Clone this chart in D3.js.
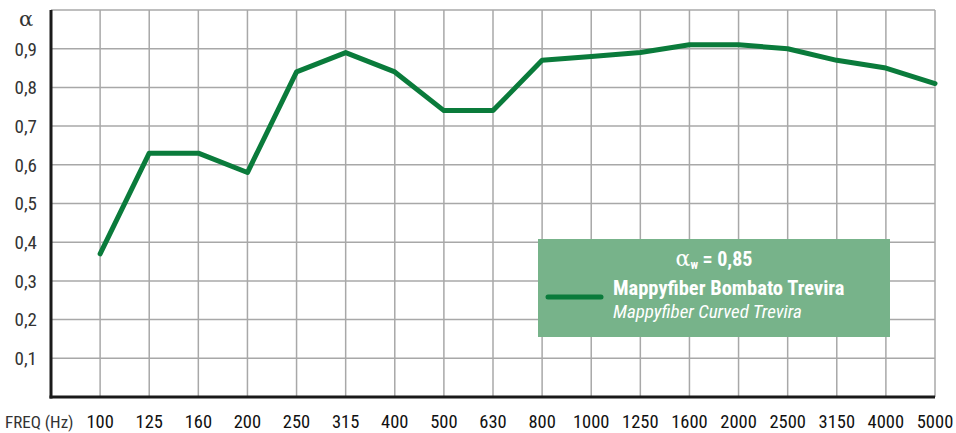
<!DOCTYPE html>
<html>
<head>
<meta charset="utf-8">
<script src="https://cdn.jsdelivr.net/npm/d3@7"></script>
<style>
  body { margin: 0; background: #fff; }
  svg { display: block; font-family: "Liberation Sans Narrow", "Roboto Condensed", "Liberation Sans", sans-serif; }
</style>
</head>
<body>
<div id="vis"></div>
<script>
const FRAME_WIDTH = 956;
const FRAME_HEIGHT = 433;
const MARGINS = {left: 51, right: 21, top: 10, bottom: 36};

// data
const freqs = ["100", "125", "160", "200", "250", "315", "400", "500", "630", "800",
               "1000", "1250", "1600", "2000", "2500", "3150", "4000", "5000"];
const alphaValues = [0.37, 0.63, 0.63, 0.58, 0.84, 0.89, 0.84, 0.74, 0.74, 0.87,
                     0.88, 0.89, 0.91, 0.91, 0.90, 0.87, 0.85, 0.81];
const yTicks = [0.1, 0.2, 0.3, 0.4, 0.5, 0.6, 0.7, 0.8, 0.9];
const alphaW = "0,85";
const seriesName = "Mappyfiber Bombato Trevira";
const seriesNameEn = "Mappyfiber Curved Trevira";

const VIS_WIDTH = FRAME_WIDTH - MARGINS.left - MARGINS.right;
const VIS_HEIGHT = FRAME_HEIGHT - MARGINS.top - MARGINS.bottom;

const svg = d3.select("#vis")
  .append("svg")
    .attr("width", FRAME_WIDTH)
    .attr("height", FRAME_HEIGHT);

const FRAME = svg.append("g")
  .attr("transform", "translate(" + MARGINS.left + "," + MARGINS.top + ")");

// one empty slot left of 100 Hz so the first point sits on a grid line
const X_SCALE = d3.scalePoint()
  .domain([""].concat(freqs))
  .range([0, VIS_WIDTH]);

const Y_SCALE = d3.scaleLinear()
  .domain([0, 1])
  .range([VIS_HEIGHT, 0]);

// horizontal grid
FRAME.append("g")
  .selectAll("line")
  .data(yTicks.concat([1]))
  .enter()
  .append("line")
    .attr("x1", 0)
    .attr("x2", VIS_WIDTH)
    .attr("y1", d => Y_SCALE(d))
    .attr("y2", d => Y_SCALE(d))
    .attr("stroke", "#a8a8a8")
    .attr("stroke-width", 1.5);

// vertical grid
FRAME.append("g")
  .selectAll("line")
  .data(freqs)
  .enter()
  .append("line")
    .attr("x1", d => X_SCALE(d))
    .attr("x2", d => X_SCALE(d))
    .attr("y1", 0)
    .attr("y2", VIS_HEIGHT)
    .attr("stroke", "#a8a8a8")
    .attr("stroke-width", 1.5);

// axes (black L)
FRAME.append("line")
  .attr("x1", 0).attr("x2", 0)
  .attr("y1", 0).attr("y2", VIS_HEIGHT + 1.5)
  .attr("stroke", "#1a1a1a")
  .attr("stroke-width", 3);
FRAME.append("line")
  .attr("x1", -1.5).attr("x2", VIS_WIDTH)
  .attr("y1", VIS_HEIGHT).attr("y2", VIS_HEIGHT)
  .attr("stroke", "#1a1a1a")
  .attr("stroke-width", 3);

// y tick labels
const fmt = d => d3.format(".1f")(d).replace(".", ",");
FRAME.append("g")
  .selectAll("text")
  .data(yTicks)
  .enter()
  .append("text")
    .attr("x", -14)
    .attr("y", d => Y_SCALE(d))
    .attr("dy", "0.36em")
    .attr("text-anchor", "end")
    .attr("font-size", "19px")
    .attr("fill", "#333")
    .text(fmt);

FRAME.append("text")
  .attr("x", -25)
  .attr("y", 16)
  .attr("text-anchor", "middle")
  .attr("font-family", "'DejaVu Serif', serif")
  .attr("font-size", "21px")
  .attr("fill", "#333")
  .text("α");

// x tick labels
FRAME.append("g")
  .selectAll("text")
  .data(freqs)
  .enter()
  .append("text")
    .attr("x", d => X_SCALE(d))
    .attr("y", VIS_HEIGHT + 31)
    .attr("text-anchor", "middle")
    .attr("font-size", "18.5px")
    .attr("fill", "#111")
    .text(d => d);

FRAME.append("text")
  .attr("x", -46)
  .attr("y", VIS_HEIGHT + 31)
  .attr("font-size", "17px")
  .attr("fill", "#333")
  .text("FREQ (Hz)");

// the curve
const line = d3.line()
  .x((d, i) => X_SCALE(freqs[i]))
  .y(d => Y_SCALE(d));

FRAME.append("path")
  .datum(alphaValues)
  .attr("d", line)
  .attr("fill", "none")
  .attr("stroke", "#0a7b3b")
  .attr("stroke-width", 5)
  .attr("stroke-linejoin", "round")
  .attr("stroke-linecap", "round");

// legend box
const legend = svg.append("g").attr("transform", "translate(538,239)");
legend.append("rect")
  .attr("width", 352)
  .attr("height", 98)
  .attr("fill", "#77b38a");
legend.append("line")
  .attr("x1", 10).attr("x2", 63)
  .attr("y1", 58).attr("y2", 58)
  .attr("stroke", "#0a7b3b")
  .attr("stroke-width", 5)
  .attr("stroke-linecap", "round");
const title = legend.append("text")
  .attr("x", 176)
  .attr("y", 27)
  .attr("text-anchor", "middle")
  .attr("fill", "#fff")
  .attr("font-weight", "bold")
  .attr("font-size", "20px");
title.append("tspan")
  .attr("font-family", "'DejaVu Serif', serif")
  .attr("font-weight", "normal")
  .attr("font-size", "22px")
  .text("α");
title.append("tspan")
  .attr("font-size", "12px")
  .attr("dy", 3)
  .text("w");
title.append("tspan")
  .attr("dy", -3)
  .text(" = " + alphaW);
legend.append("text")
  .attr("x", 75)
  .attr("y", 56)
  .attr("fill", "#fff")
  .attr("font-weight", "bold")
  .attr("font-size", "20.5px")
  .text(seriesName);
legend.append("text")
  .attr("x", 75)
  .attr("y", 79)
  .attr("fill", "#fff")
  .attr("font-style", "italic")
  .attr("font-size", "19px")
  .text(seriesNameEn);
</script>
</body>
</html>
